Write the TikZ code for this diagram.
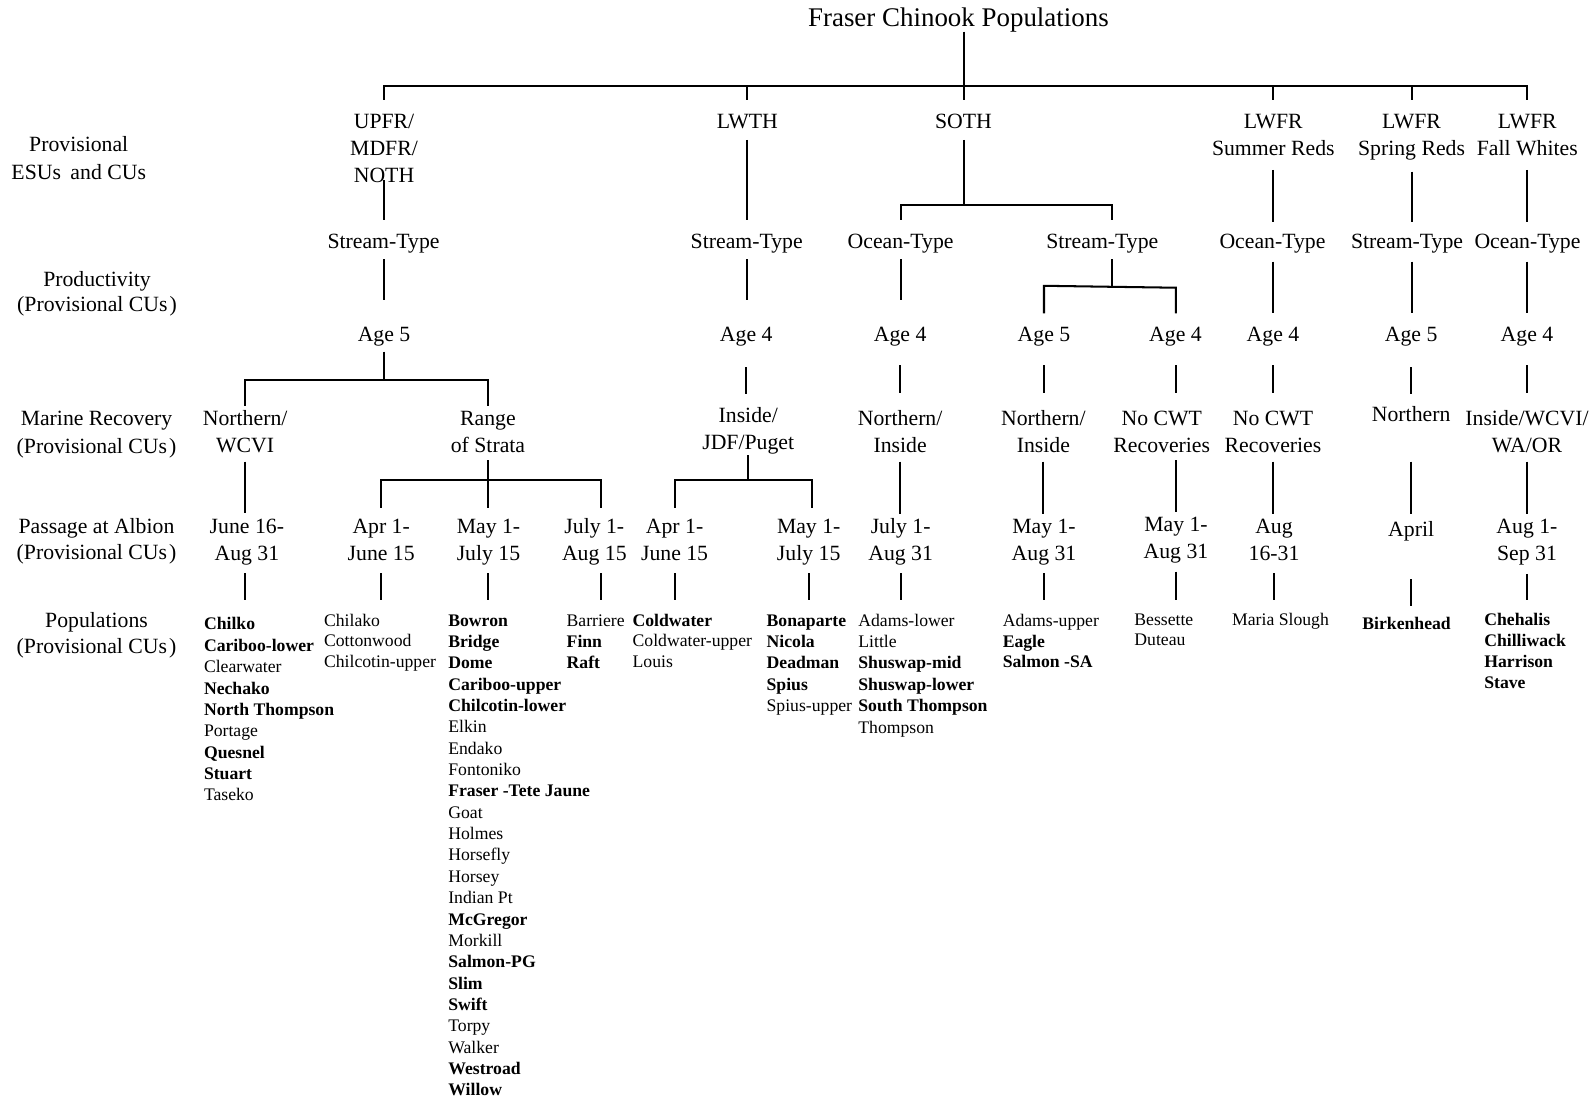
\documentclass[tikz,border=0pt]{standalone}
\usepackage{fontspec}
\setmainfont{Liberation Serif}
\newcommand\lf[1]{\fontsize{21.4}{#1}\selectfont}
\newcommand\pf[1]{\fontsize{17.4}{#1}\selectfont}
\newcommand\mylines[1]{\begin{tabular}[t]{@{}c@{}}#1\end{tabular}}
\newcommand\mylist[1]{\begin{tabular}[t]{@{}l@{}}#1\end{tabular}}
\tikzset{
  lbl/.style={inner sep=0pt, outer sep=0pt, anchor=base, font=\lf{26.5}},
  pop/.style={inner sep=0pt, outer sep=0pt, anchor=base west, font=\pf{21.05}},
  conn/.style={line width=2pt, draw=black},
}
\begin{document}
\begin{tikzpicture}[x=1pt,y=-1pt]
\useasboundingbox (0,0) rectangle (1568,1086);

% ---------- title and side labels
\node[lbl, font=\fontsize{26.5}{31}\selectfont] (tt) at (943.4,25.6) {\mylines{Fraser Chinook Populations}};
\node[lbl, font=\lf{27}] (la) at (77.5,149.5) {\mylines{Provisional\\ESUs\hspace{4pt} and CUs}};
\node[lbl, font=\lf{25}] (lb) at (95.5,282) {\mylines{Productivity\\(Provisional CUs\kern2pt)}};
\node[lbl, font=\lf{27}] (lc) at (95,419.3) {\mylines{Marine Recovery\\(Provisional CUs\kern2pt)}};
\node[lbl, font=\lf{25.6}] (ld) at (95,525) {\mylines{Passage at Albion\\(Provisional CUs\kern2pt)}};
\node[lbl, font=\lf{25.5}] (le) at (95,617.5) {\mylines{Populations\\(Provisional CUs\kern2pt)}};

% ---------- row 1
\node[lbl] (upfr) at (378,126.3) {\mylines{UPFR/\\MDFR/\\NOTH}};
\node[lbl] (lwth) at (735.6,126.3) {\mylines{LWTH}};
\node[lbl] (soth) at (948.3,126.3) {\mylines{SOTH}};
\node[lbl] (lwa) at (1253.3,126.3) {\mylines{LWFR\\Summer Reds}};
\node[lbl] (lwb) at (1389.4,126.3) {\mylines{LWFR\\Spring Reds}};
\node[lbl] (lwc) at (1503.3,126.3) {\mylines{LWFR\\Fall Whites}};

% ---------- row 2
\node[lbl] (st1) at (377.5,244.4) {\mylines{Stream-Type}};
\node[lbl] (st2) at (735,244.4) {\mylines{Stream-Type}};
\node[lbl] (oc1) at (886.5,244.4) {\mylines{Ocean-Type}};
\node[lbl] (st3) at (1085,244.4) {\mylines{Stream-Type}};
\node[lbl] (oc2) at (1252.5,244.4) {\mylines{Ocean-Type}};
\node[lbl] (st4) at (1385,244.4) {\mylines{Stream-Type}};
\node[lbl] (oc3) at (1503.5,244.4) {\mylines{Ocean-Type}};

% ---------- row 3
\node[lbl] (age1) at (378,336.3) {\mylines{Age 5}};
\node[lbl] (age2) at (734.5,336.3) {\mylines{Age 4}};
\node[lbl] (age3) at (886,336.3) {\mylines{Age 4}};
\node[lbl] (age4) at (1027.6,336.3) {\mylines{Age 5}};
\node[lbl] (age5) at (1157,336.3) {\mylines{Age 4}};
\node[lbl] (age6) at (1253,336.3) {\mylines{Age 4}};
\node[lbl] (age7) at (1389,336.3) {\mylines{Age 5}};
\node[lbl] (age8) at (1503,336.3) {\mylines{Age 4}};

% ---------- row 4
\node[lbl] (r4a) at (241.3,419.3) {\mylines{Northern/\\WCVI}};
\node[lbl] (r4b) at (480.3,419.3) {\mylines{Range\\of Strata}};
\node[lbl] (r4c) at (736.5,415.5) {\mylines{Inside/\\JDF/Puget}};
\node[lbl] (r4d) at (886,419.3) {\mylines{Northern/\\Inside}};
\node[lbl] (r4e) at (1027,419.3) {\mylines{Northern/\\Inside}};
\node[lbl] (r4f) at (1143.5,419.3) {\mylines{No CWT\\Recoveries}};
\node[lbl] (r4g) at (1253,419.3) {\mylines{No CWT\\Recoveries}};
\node[lbl] (r4h) at (1389,415) {\mylines{Northern}};
\node[lbl] (r4i) at (1503,419.3) {\mylines{Inside/WCVI/\\WA/OR}};

% ---------- row 5
\node[lbl] (r5a) at (243,525) {\mylines{June 16-\\Aug 31}};
\node[lbl] (r5b) at (375.2,525) {\mylines{Apr 1-\\June 15}};
\node[lbl] (r5c) at (480.8,525) {\mylines{May 1-\\July 15}};
\node[lbl] (r5d) at (585,525) {\mylines{July 1-\\Aug 15}};
\node[lbl] (r5e) at (664,525) {\mylines{Apr 1-\\June 15}};
\node[lbl] (r5f) at (796,525) {\mylines{May 1-\\July 15}};
\node[lbl] (r5h) at (886.5,525) {\mylines{July 1-\\Aug 31}};
\node[lbl] (r5i) at (1027.6,525) {\mylines{May 1-\\Aug 31}};
\node[lbl] (r5j) at (1157.5,523.3) {\mylines{May 1-\\Aug 31}};
\node[lbl] (r5k) at (1254,525) {\mylines{Aug\\16-31}};
\node[lbl] (r5l) at (1389,528.2) {\mylines{April}};
\node[lbl] (r5m) at (1503,525) {\mylines{Aug 1-\\Sep 31}};

% ---------- populations
\node[pop] (p1) at (200.8,620) {\mylist{\textbf{Chilko}\\\textbf{Cariboo-lower}\\Clearwater\\\textbf{Nechako}\\\textbf{North Thompson}\\Portage\\\textbf{Quesnel}\\\textbf{Stuart}\\Taseko}};
\node[pop, font=\pf{20.5}] (p2) at (319,616.2) {\mylist{Chilako\\Cottonwood\\Chilcotin-upper}};
\node[pop, font=\pf{21.02}] (p3) at (441.3,616.2) {\mylist{\textbf{Bowron}\\\textbf{Bridge}\\\textbf{Dome}\\\textbf{Cariboo-upper}\\\textbf{Chilcotin-lower}\\Elkin\\Endako\\Fontoniko\\\textbf{Fraser -Tete Jaune}\\Goat\\Holmes\\Horsefly\\Horsey\\Indian Pt\\\textbf{McGregor}\\Morkill\\\textbf{Salmon-PG}\\\textbf{Slim}\\\textbf{Swift}\\Torpy\\Walker\\\textbf{Westroad}\\\textbf{Willow}}};
\node[pop, font=\pf{20.5}] (p4) at (557.8,616.8) {\mylist{Barriere\\\textbf{Finn}\\\textbf{Raft}}};
\node[pop, font=\pf{20.2}] (p5) at (622.7,616.2) {\mylist{\textbf{Coldwater}\\Coldwater-upper\\Louis}};
\node[pop] (p6) at (754.6,616.2) {\mylist{\textbf{Bonaparte}\\\textbf{Nicola}\\\textbf{Deadman}\\\textbf{Spius}\\Spius-upper}};
\node[pop, font=\pf{21.1}] (p7) at (844.9,616.2) {\mylist{Adams-lower\\Little\\\textbf{Shuswap-mid}\\\textbf{Shuswap-lower}\\\textbf{South Thompson}\\Thompson}};
\node[pop, font=\pf{20}] (p8) at (987,616.9) {\mylist{Adams-upper\\\textbf{Eagle}\\\textbf{Salmon -SA}}};
\node[pop, font=\pf{19.7}] (p9) at (1116.6,615.2) {\mylist{Bessette\\Duteau}};
\node[pop] (p10) at (1212.8,615.2) {\mylist{Maria Slough}};
\node[pop] (p11) at (1341,620.1) {\mylist{\textbf{Birkenhead}}};
\node[pop, font=\pf{20.6}] (p12) at (1461,615.8) {\mylist{\textbf{Chehalis}\\\textbf{Chilliwack}\\\textbf{Harrison}\\\textbf{Stave}}};

% ---------- junction coordinates
\coordinate (jtop) at (948.4,84.7);
\coordinate (jsoth) at (948.4,201.8);
\coordinate (jst3) at (1094.4,282.3);
\coordinate (jl) at (1027.6,281.3);
\coordinate (jr) at (1157.3,283.2);
\coordinate (j4) at (378,374);
\coordinate (j5) at (480.3,472.5);
\coordinate (j5r) at (591.3,472.5);
\coordinate (j5b) at (736.4,472.5);
\coordinate (j5br) at (798.9,472.5);

% ---------- title to row 1
\draw[conn, shorten <=-3.7pt] (tt.south -| jtop) -- (jtop);
\draw[conn, shorten >=9.35pt] (jtop) -| (upfr.north);
\draw[conn, shorten >=9.35pt] (jtop) -| (lwth.north);
\draw[conn, shorten >=9.35pt] (jtop) -- (jtop |- soth.north);
\draw[conn, shorten >=9.35pt] (jtop) -| (lwa.north);
\draw[conn, shorten >=9.35pt] (jtop) -| (lwb.north);
\draw[conn, shorten >=9.35pt] (jtop) -| (lwc.north);

% ---------- row 1 to row 2
\draw[conn, shorten <=-10.25pt, shorten >=9.35pt] (upfr.south) -- (upfr.south |- st1.north);
\draw[conn, shorten <=3.55pt, shorten >=9.35pt] (lwth.south) -- (lwth.south |- st2.north);
\draw[conn, shorten <=3.55pt] (jsoth |- soth.south) -- (jsoth);
\draw[conn, shorten >=9.35pt] (jsoth) -| (oc1.north);
\draw[conn, shorten >=9.35pt] (jsoth) -| (st3.north -| jst3);
\draw[conn, shorten <=6.55pt, shorten >=7.65pt] (lwa.south) -- (lwa.south |- oc2.north);
\draw[conn, shorten <=8.25pt, shorten >=7.65pt] (lwb.south) -- (lwb.south |- st4.north);
\draw[conn, shorten <=6.55pt, shorten >=7.65pt] (lwc.south) -- (lwc.south |- oc3.north);

% ---------- row 2 to row 3
\draw[conn, shorten <=2.95pt, shorten >=22.45pt] (st1.south -| upfr) -- (upfr |- age1.north);
\draw[conn, shorten <=2.95pt, shorten >=22.45pt] (st2.south -| lwth) -- (lwth |- age2.north);
\draw[conn, shorten <=2.95pt, shorten >=22.45pt] (oc1.south) -- (oc1.south |- age3.north);
\draw[conn, shorten <=2.95pt] (st3.south -| jst3) -- (jst3);
\draw[conn, shorten >=9.35pt] (jst3) -- (jl) -- (jl |- age4.north);
\draw[conn, shorten >=9.35pt] (jst3) -- (jr) -- (jr |- age5.north);
\draw[conn, shorten <=5.25pt, shorten >=9.35pt] (oc2.south -| lwa) -- (lwa |- age6.north);
\draw[conn, shorten <=5.25pt, shorten >=9.35pt] (st4.south -| lwb) -- (lwb |- age7.north);
\draw[conn, shorten <=5.25pt, shorten >=9.35pt] (oc3.south -| lwc) -- (lwc |- age8.north);

% ---------- row 3 to row 4
\draw[conn, shorten <=1.75pt] (age1.south -| j4) -- (j4);
\draw[conn, shorten >=1.15pt] (j4) -| (r4a.north);
\draw[conn, shorten >=1.15pt] (j4) -| (r4b.north);
\draw[conn, shorten <=17.35pt, shorten >=9.15pt] (age2.south) -- (age2.south |- r4c.north);
\draw[conn, shorten <=15.05pt, shorten >=14.25pt] (age3.south) -- (age3.south |- r4d.north);
\draw[conn, shorten <=15.05pt, shorten >=14.25pt] (age4.south) -- (age4.south |- r4e.north);
\draw[conn, shorten <=15.05pt, shorten >=14.25pt] (age5.south -| jr) -- (jr |- r4f.north);
\draw[conn, shorten <=15.05pt, shorten >=14.25pt] (age6.south) -- (age6.south |- r4g.north);
\draw[conn, shorten <=17.35pt, shorten >=8.65pt] (age7.south) -- (age7.south |- r4h.north);
\draw[conn, shorten <=15.05pt, shorten >=14.25pt] (age8.south) -- (age8.south |- r4i.north);

% ---------- row 4 to row 5
\draw[conn, shorten <=0.65pt, shorten >=1.15pt] (r4a.south) -- (r4a.south |- r5a.north);
\draw[conn, shorten <=-0.95pt] (r4b.south) -- (r4b.south |- j5);
\draw[conn, shorten >=6.45pt] (j5) -| (r5b.north);
\draw[conn, shorten >=6.45pt] (j5) -- (j5 |- r5c.north);
\draw[conn, shorten >=6.45pt] (j5) -| (r5d.north -| j5r);
\draw[conn, shorten <=-2.05pt] (r4c.south) -- (r4c.south |- j5b);
\draw[conn, shorten >=6.15pt] (j5b) -| (r5e.north);
\draw[conn, shorten >=6.15pt] (j5b) -| (r5f.north -| j5br);
\draw[conn, shorten <=0.65pt, shorten >=0.55pt] (r4d.south) -- (r4d.south |- r5h.north);
\draw[conn, shorten <=0.65pt, shorten >=0.55pt] (r4e.south) -- (r4e.south |- r5i.north);
\draw[conn, shorten <=-0.95pt, shorten >=1.15pt] (r4f.south -| jr) -- (jr |- r5j.north);
\draw[conn, shorten <=0.65pt, shorten >=0.55pt] (r4g.south) -- (r4g.south |- r5k.north);
\draw[conn, shorten <=31.45pt, shorten >=3.75pt] (r4h.south) -- (r4h.south |- r5l.north);
\draw[conn, shorten <=0.65pt, shorten >=0.55pt] (r4i.south) -- (r4i.south |- r5m.north);

% ---------- row 5 to populations
\draw[conn, shorten <=4.85pt, shorten >=14.67pt] (r5a.south -| r4a) -- (r4a |- p1.north);
\draw[conn, shorten <=4.85pt, shorten >=11.25pt] (r5b.south) -- (r5b.south |- p2.north);
\draw[conn, shorten <=4.85pt, shorten >=10.89pt] (r5c.south) -- (r5c.south |- p3.north);
\draw[conn, shorten <=4.85pt, shorten >=11.85pt] (r5d.south -| j5r) -- (j5r |- p4.north);
\draw[conn, shorten <=4.85pt, shorten >=11.46pt] (r5e.south) -- (r5e.south |- p5.north);
\draw[conn, shorten <=4.85pt, shorten >=10.87pt] (r5f.south) -- (r5f.south |- p6.north);
\draw[conn, shorten <=4.85pt, shorten >=10.83pt] (r5h.south) -- (r5h.south |- p7.north);
\draw[conn, shorten <=4.85pt, shorten >=12.3pt] (r5i.south) -- (r5i.south |- p8.north);
\draw[conn, shorten <=4.95pt, shorten >=10.81pt] (r5j.south) -- (r5j.south |- p9.north);
\draw[conn, shorten <=4.85pt, shorten >=9.87pt] (r5k.south) -- (r5k.south |- p10.north);
\draw[conn, shorten <=34.05pt, shorten >=8.87pt] (r5l.south) -- (r5l.south |- p11.north);
\draw[conn, shorten <=5.45pt, shorten >=10.78pt] (r5m.south) -- (r5m.south |- p12.north);
\end{tikzpicture}
\end{document}
